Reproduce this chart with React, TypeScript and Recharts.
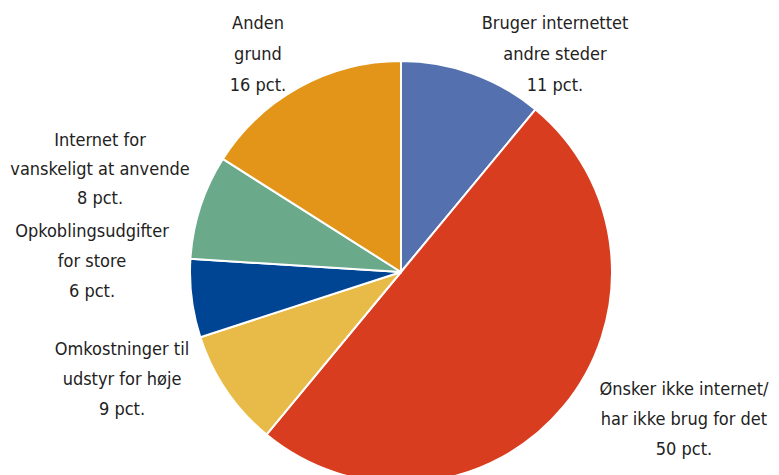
import React from "react";
import { PieChart, Pie, Cell } from "recharts";

const categories = [
  ["Bruger internettet", "andre steder"],
  ["Ønsker ikke internet/", "har ikke brug for det"],
  ["Omkostninger til", "udstyr for høje"],
  ["Opkoblingsudgifter", "for store"],
  ["Internet for", "vanskeligt at anvende"],
  ["Anden", "grund"],
];
const shares = [11, 50, 9, 6, 8, 16];
const COLORS = ["#5470ae", "#d93d20", "#e8bb48", "#004494", "#6aa98a", "#e29518"];

// label anchor: center x, first line baseline y, line gap
const LABEL_POS = [
  { x: 555, y: 29, gap: 31 },
  { x: 684, y: 395, gap: 30 },
  { x: 122, y: 355, gap: 30 },
  { x: 92, y: 237, gap: 30 },
  { x: 100, y: 146, gap: 29 },
  { x: 258, y: 29, gap: 31 },
];

const data = categories.map((c, i) => ({ name: c.join(" "), lines: c, value: shares[i] }));

const FONT = '"Liberation Sans Narrow", "DejaVu Sans Condensed", "Roboto Condensed", sans-serif';

function renderLabel(props: any) {
  const i = props.index;
  const p = LABEL_POS[i];
  const lines = [...data[i].lines, `${data[i].value} pct.`];
  return (
    <text key={i} x={p.x} y={p.y} textAnchor="middle" fill="#222" fontSize={18} fontFamily={FONT}>
      {lines.map((l, j) => (
        <tspan key={j} x={p.x} y={p.y + j * p.gap}>{l}</tspan>
      ))}
    </text>
  );
}

export default function App() {
  return (
    <div style={{ position: "fixed", left: 0, top: 0, width: 779, height: 475, background: "#fff" }}>
      <PieChart width={779} height={475} margin={{ top: 0, right: 0, bottom: 0, left: 0 }}>
        <Pie
          data={data}
          dataKey="value"
          cx={401}
          cy={272}
          outerRadius={211}
          startAngle={90}
          endAngle={-270}
          stroke="#fff"
          strokeWidth={2}
          label={renderLabel}
          labelLine={false}
          isAnimationActive={false}
        >
          {data.map((_, i) => (
            <Cell key={i} fill={COLORS[i]} />
          ))}
        </Pie>
      </PieChart>
    </div>
  );
}
